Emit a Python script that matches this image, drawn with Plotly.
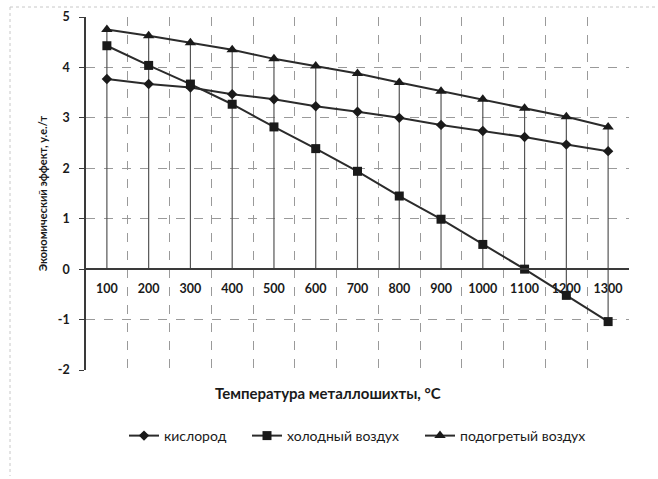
import plotly.graph_objects as go

categories = ["100", "200", "300", "400", "500", "600", "700", "800", "900", "1000", "1100", "1200", "1300"]
kislorod = [3.77, 3.67, 3.60, 3.47, 3.37, 3.23, 3.12, 3.00, 2.86, 2.74, 2.62, 2.47, 2.34]
holodny = [4.43, 4.04, 3.67, 3.27, 2.82, 2.39, 1.94, 1.45, 0.99, 0.49, 0.00, -0.52, -1.04]
podogrety = [4.75, 4.63, 4.49, 4.35, 4.17, 4.03, 3.88, 3.70, 3.53, 3.37, 3.19, 3.02, 2.82]
y_ticks = [-2, -1, 0, 1, 2, 3, 4, 5]

W, H = 658, 479
L, R, T, B = 86, 629, 17, 370  # plot area in px
PW, PH = R - L, B - T

font_main = "Lato, Open Sans, DejaVu Sans, sans-serif"
line_col = "#2b2b2b"
txt_col = "#1a1a1a"

def px_x(p):
    return (p - L) / PW

def px_y(p):
    return (B - p) / PH

fig = go.Figure()

# drop lines from each point to the category axis
dx, dy = [], []
for i, c in enumerate(categories):
    vals = [kislorod[i], holodny[i], podogrety[i]]
    top = max(max(vals), 0)
    bot = min(min(vals), 0)
    dx += [c, c, None]
    dy += [top, bot, None]
fig.add_trace(go.Scatter(x=dx, y=dy, mode="lines", line=dict(color="#555555", width=1.2),
                         showlegend=False, hoverinfo="skip"))

fig.add_trace(go.Scatter(x=categories, y=kislorod, name="кислород", mode="lines+markers",
                         line=dict(color=line_col, width=2), legend="legend",
                         marker=dict(symbol="diamond", size=8, color=txt_col)))
fig.add_trace(go.Scatter(x=categories, y=holodny, name="холодный воздух", mode="lines+markers",
                         line=dict(color=line_col, width=2), legend="legend2",
                         marker=dict(symbol="square", size=9, color=txt_col)))
fig.add_trace(go.Scatter(x=categories, y=podogrety, name="подогретый воздух", mode="lines+markers",
                         line=dict(color=line_col, width=2), legend="legend3",
                         marker=dict(symbol="triangle-up", size=10, color=txt_col)))

ymin, ymax = -2, 5
zero_pos = (0 - ymin) / (ymax - ymin)

leg_font = dict(size=14, family=font_main, color=txt_col)
def leg(xpx):
    return dict(orientation="h", x=px_x(xpx), xanchor="left", y=px_y(436), yanchor="middle",
                font=leg_font, itemwidth=30, bgcolor="rgba(0,0,0,0)")

fig.update_layout(
    width=W, height=H,
    margin=dict(l=L, r=W - R, t=T, b=H - B, autoexpand=False),
    paper_bgcolor="white", plot_bgcolor="white",
    font=dict(family=font_main, color=txt_col),
    xaxis=dict(
        type="category", categoryorder="array", categoryarray=categories,
        range=[-0.5, len(categories) - 0.5],
        anchor="free", position=zero_pos, automargin=False,
        showline=True, linecolor="#3a3a3a", linewidth=1.5,
        tickson="boundaries", ticks="",
        showgrid=True, gridcolor="#9a9a9a", griddash="dash", gridwidth=0.8,
        tickfont=dict(size=12.5, family=font_main, color=txt_col, weight="bold"),
        ticklabelstandoff=8,
        zeroline=False,
    ),
    yaxis=dict(
        range=[ymin, ymax], tickvals=y_ticks, ticktext=[str(v) for v in y_ticks],
        automargin=False,
        showline=True, linecolor="#3a3a3a", linewidth=1.5,
        ticks="outside", ticklen=5, tickcolor="#3a3a3a",
        showgrid=True, gridcolor="#9a9a9a", griddash="dash", gridwidth=0.8,
        zeroline=False, ticklabelstandoff=7,
        tickfont=dict(size=12.5, family=font_main, color=txt_col, weight="bold"),
        title=dict(text="Экономический эффект, у.е./т", standoff=8,
                   font=dict(size=11, family=font_main, color=txt_col, weight="bold")),
    ),
    legend=leg(124),
    legend2=leg(247),
    legend3=leg(420),
    showlegend=True,
)

# x-axis title
fig.add_annotation(text="Температура металлошихты, °С", xref="paper", yref="paper",
                   x=px_x(328), y=px_y(393), xanchor="center", yanchor="middle",
                   showarrow=False, font=dict(size=15, family=font_main, color=txt_col, weight="bold"))

# chart-area border (top & left visible in scan)
fig.add_shape(type="line", xref="paper", yref="paper",
              x0=px_x(10), x1=px_x(656), y0=px_y(7), y1=px_y(7),
              line=dict(color="#c8c8c8", width=1, dash="dot"))
fig.add_shape(type="line", xref="paper", yref="paper",
              x0=px_x(10), x1=px_x(10), y0=px_y(7), y1=px_y(476),
              line=dict(color="#c8c8c8", width=1, dash="dot"))

fig.write_html("out.html", config={"displayModeBar": False},
               post_script="document.body.style.margin='0';document.body.style.overflow='hidden';")
